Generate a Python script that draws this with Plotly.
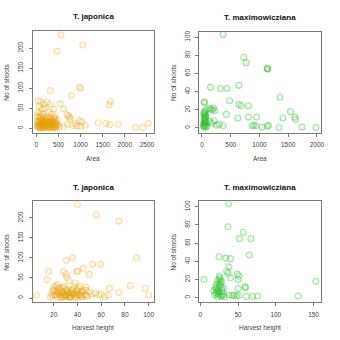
import plotly.graph_objects as go

# ---------------- data ----------------
jap_area = [558, 469, 1049, 975, 1004, 320, 796, 543, 1674, 1644, 618, 692, 751, 975, 1027,
            1399, 1570, 1659, 1853, 2240, 2403, 2530, 1101, 826, 915, 432, 394, 729, 766, 620,
            700, 880, 1000,
            45, 97, 171, 246, 134, 60, 30, 200, 280, 350, 420, 150, 80, 320, 250,
            20, 30, 40, 50, 60, 70, 80, 90, 100, 110, 120, 130, 140, 150, 160, 170, 180, 190,
            200, 210, 220, 230, 240, 250, 260, 270, 280, 290, 300, 310, 320, 330, 340, 350,
            360, 370, 380, 390, 400, 410, 420, 430, 440, 450, 460, 480, 500, 520,
            25, 35, 45, 55, 65, 75, 85, 95, 105, 115, 125, 135, 145, 155, 165, 185, 205, 225,
            245, 265, 285, 305, 325, 345, 365, 385, 405, 425, 445]
jap_shoots_area = [233, 192, 208, 103, 100, 94, 82, 61, 67, 59, 49, 34, 28, 20, 16,
                   14, 12, 9, 10, 2, 2, 12, 7, 7, 6, 23, 48, 32, 23, 4,
                   10, 12, 4,
                   69, 65, 61, 65, 48, 55, 40, 50, 40, 35, 30, 35, 38, 60, 30,
                   5, 12, 3, 20, 8, 15, 2, 25, 10, 5, 18, 3, 12, 22, 6, 28, 9, 14,
                   4, 19, 7, 11, 2, 16, 24, 6, 13, 3, 20, 8, 27, 5, 15, 10,
                   2, 18, 7, 12, 25, 4, 9, 16, 3, 13, 6, 20, 8, 3,
                   30, 18, 8, 1, 26, 5, 17, 1, 30, 13, 8, 22, 1, 16, 9, 2, 25, 14,
                   8, 1, 10, 15, 2, 22, 12, 4, 17, 1, 8]

jap_height = [40, 56, 75, 90, 36, 30.6, 52.8, 59.4, 39.4, 40.5, 15.8, 28.3, 30.6, 50, 45,
              14.4, 31, 33, 84.4, 97, 100, 75, 67, 5.6, 58, 60, 65.8, 63, 55, 47, 42, 38,
              18, 19, 20, 21, 22, 23, 24, 25, 26, 27, 28, 29, 30, 31, 32, 33, 34, 35, 36, 37,
              38, 39, 40, 41, 42, 43, 44, 45, 46, 47, 48, 50, 52,
              17, 19.5, 21.5, 23.5, 25.5, 27.5, 29.5, 31.5, 33.5, 35.5, 37.5, 39.5, 41.5, 43.5,
              22, 24, 26, 28, 30, 32, 34, 36, 38, 40, 25, 27, 29, 31, 33, 23, 35, 44, 48, 20]
jap_shoots_height = [233, 208, 192, 100, 100, 94, 84, 84, 67, 67, 67, 66, 59, 59, 74,
                     46, 51, 43, 31, 24, 7, 14, 24, 7, 7, 10, 7, 3, 12, 20, 30, 38,
                     12, 5, 20, 8, 15, 3, 25, 10, 18, 2, 12, 30, 6, 22, 9, 14, 4, 19, 7, 28,
                     11, 2, 16, 24, 6, 13, 3, 20, 8, 27, 5, 15, 10,
                     2, 18, 7, 12, 25, 4, 9, 16, 3, 13, 6, 20, 8, 3,
                     30, 17, 1, 26, 5, 13, 1, 22, 1, 9, 8, 14, 4, 19, 2, 34, 11, 16, 5, 28]

max_area = [367, 728, 768, 1140, 1145, 1135, 149, 321, 436, 642, 1358, 481, 34, 45, 642,
            682, 808, 120, 150, 180, 200, 220, 424, 1542, 1616, 1628, 1410, 625, 808, 951,
            871, 900, 940, 1043, 1140, 1158, 1341, 1742, 1983, 252, 300, 367, 138, 180, 210,
            25, 30, 35, 40, 45, 50, 55, 60, 65, 70, 28, 38, 48, 58, 68, 75, 80, 33, 42, 52, 62, 72]
max_shoots_area = [103, 78, 72, 65, 65, 66, 45, 43.6, 43.6, 47, 34, 30, 29, 28, 26,
                   24.5, 24.5, 22, 21, 20, 22, 19, 15, 18, 12, 9.5, 11, 11, 12, 12,
                   2.5, 3, 2.5, 1, 2, 3, 0.5, 1, 0.5, 3, 4, 2.5, 7, 5, 8,
                   2, 5, 8, 11, 14, 3, 6, 10, 1, 13, 16, 4, 9, 12, 7, 2, 5, 1, 17, 18, 15, 20]

max_height = [37.5, 36.6, 57, 52, 67, 65, 24.9, 33.6, 40, 38, 35, 37, 49, 51, 4.8,
              25, 26, 27, 25.5, 50, 40, 50, 59, 60, 153, 129.5, 61, 69, 76, 29, 38, 42, 45,
              48, 51, 21, 22, 24,
              18, 19, 20, 21, 22, 23, 24, 25, 26, 27, 28, 29, 30, 31, 32, 23, 26, 28]
max_shoots_height = [103, 78, 72, 65, 65, 47, 45, 43.6, 43, 34, 29, 27, 26, 24, 20,
                     24, 20, 17, 15, 20, 22, 10, 12, 11, 18, 2, 1.5, 1.5, 2, 2, 3, 2.5, 3,
                     2, 2.5, 10, 7, 4,
                     8, 3, 12, 5, 15, 1, 9, 6, 13, 2, 18, 8, 4, 11, 1, 19, 22, 11]

titles = ["T. japonica", "T. maximowicziana", "T. japonica", "T. maximowicziana"]
x_titles = ["Area", "Area", "Harvest height", "Harvest height"]
y_title = "No of shoots"

jap_col = (230, 160, 0)
max_col = (40, 190, 40)

# ---------------- figure ----------------
fig = go.Figure()

panels = [
    (jap_area, jap_shoots_area, jap_col, 0.30),
    (max_area, max_shoots_area, max_col, 0.38),
    (jap_height, jap_shoots_height, jap_col, 0.30),
    (max_height, max_shoots_height, max_col, 0.38),
]

W = 340.0
# panel boxes in pixels (left, right, top, bottom)
boxes = [(32, 155, 30, 132), (200.7, 324.3, 31, 132),
         (32, 155, 200.7, 302.3), (200.7, 324.3, 201, 302.3)]
xranges = [[-83, 2663], [-46, 2080], [2.25, 104.7], [-1.3, 160.5]]
yranges = [[-10.7, 243], [-5.1, 105.9], [-11, 242], [-5.1, 105.9]]
xticks = [[0, 500, 1000, 1500, 2000, 2500], [0, 500, 1000, 1500, 2000],
          [20, 40, 60, 80, 100], [0, 50, 100, 150]]
yticks = [[0, 50, 100, 150, 200], [0, 20, 40, 60, 80, 100],
          [0, 50, 100, 150, 200], [0, 20, 40, 60, 80, 100]]

font_family = "Liberation Sans, Arial, sans-serif"
axis_common = dict(showgrid=False, zeroline=False, showline=True, mirror=True,
                   linecolor="#7a7a7a", linewidth=1, ticks="outside", ticklen=3,
                   tickcolor="#7a7a7a", tickwidth=1,
                   tickfont=dict(size=6.5, color="#444444", family=font_family))

annotations = []
for i, ((xs, ys, col, alpha), (l, r, t, b)) in enumerate(zip(panels, boxes)):
    n = i + 1
    xa = "x" if n == 1 else f"x{n}"
    ya = "y" if n == 1 else f"y{n}"
    fig.add_trace(go.Scatter(
        x=xs, y=ys, mode="markers", xaxis=xa, yaxis=ya, showlegend=False,
        marker=dict(symbol="circle", size=6,
                    color="rgba(%d,%d,%d,0.08)" % col,
                    line=dict(color="rgba(%d,%d,%d,%.2f)" % (col + (alpha,)), width=1.1))))
    xkey = "xaxis" if n == 1 else f"xaxis{n}"
    ykey = "yaxis" if n == 1 else f"yaxis{n}"
    fig.layout[xkey] = dict(axis_common, domain=[l / W, r / W], range=xranges[i],
                            tickvals=xticks[i], ticklabelstandoff=3,
                            anchor=ya)
    fig.layout[ykey] = dict(axis_common, domain=[1 - b / W, 1 - t / W], range=yranges[i],
                            tickvals=yticks[i], tickangle=-90, ticklabelstandoff=3,
                            anchor=xa)
    cx = (l + r) / 2
    annotations.append(dict(text="<b>%s</b>" % titles[i], x=cx / W, y=1 - (t - 14) / W,
                            xref="paper", yref="paper", showarrow=False,
                            xanchor="center", yanchor="middle",
                            font=dict(size=8, color="#111111", family=font_family)))
    annotations.append(dict(text=x_titles[i], x=cx / W, y=1 - (b + 26) / W,
                            xref="paper", yref="paper", showarrow=False,
                            xanchor="center", yanchor="middle",
                            font=dict(size=6.5, color="#444444", family=font_family)))
    annotations.append(dict(text=y_title, x=(l - 26) / W, y=1 - ((t + b) / 2) / W,
                            xref="paper", yref="paper", showarrow=False, textangle=-90,
                            xanchor="center", yanchor="middle",
                            font=dict(size=6.5, color="#444444", family=font_family)))

fig.update_layout(width=340, height=340, margin=dict(l=0, r=0, t=0, b=0),
                  paper_bgcolor="white", plot_bgcolor="white",
                  annotations=annotations)

fig.write_html("out.html")
